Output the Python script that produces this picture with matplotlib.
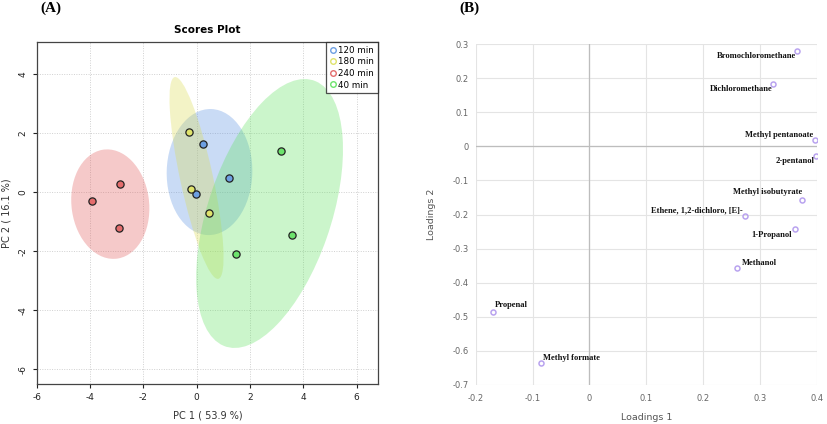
import numpy as np
import matplotlib
matplotlib.use("Agg")
import matplotlib.pyplot as plt
from matplotlib.patches import Ellipse
from matplotlib.lines import Line2D

plt.rcParams["axes.unicode_minus"] = False

# ---------------- data: panel A (scores) ----------------
groups = ["120 min", "180 min", "240 min", "40 min"]
pc1_120 = [0.25, 1.22, -0.03]
pc2_120 = [1.63, 0.48, -0.08]
pc1_180 = [-0.28, -0.21, 0.47]
pc2_180 = [2.02, 0.11, -0.70]
pc1_240 = [-3.93, -2.86, -2.93]
pc2_240 = [-0.29, 0.28, -1.22]
pc1_40 = [3.15, 3.59, 1.46]
pc2_40 = [1.39, -1.47, -2.10]
point_colors = ["#6d9fe2", "#dfe36c", "#e36c6c", "#6ce36c"]
fill_colors = ["#5c92e2", "#dddd54", "#e25c5c", "#62e262"]
xticks_a = [-6, -4, -2, 0, 2, 4, 6]
yticks_a = [-6, -4, -2, 0, 2, 4]

# ---------------- data: panel B (loadings) ----------------
compounds = ["Bromochloromethane", "Dichloromethane", "Methyl pentanoate", "2-pentanol",
             "Methyl isobutyrate", "Ethene, 1,2-dichloro, [E]-", "1-Propanol", "Methanol",
             "Propenal", "Methyl formate"]
load1 = [0.366, 0.323, 0.397, 0.399, 0.374, 0.273, 0.362, 0.260, -0.170, -0.0845]
load2 = [0.279, 0.184, 0.019, -0.027, -0.157, -0.205, -0.242, -0.357, -0.485, -0.635]
xticks_b = [-0.2, -0.1, 0, 0.1, 0.2, 0.3, 0.4]
yticks_b = [-0.7, -0.6, -0.5, -0.4, -0.3, -0.2, -0.1, 0, 0.1, 0.2, 0.3]
xticklabels_b = ["-0.2", "-0.1", "0", "0.1", "0.2", "0.3", "0.4"]
yticklabels_b = ["-0.7", "-0.6", "-0.5", "-0.4", "-0.3", "-0.2", "-0.1", "0", "0.1", "0.2", "0.3"]

W, H = 827, 424
fig = plt.figure(figsize=(W / 100, H / 100), dpi=100)

def fx(px):
    return px / W

def fy(py):
    return 1 - py / H

# ================= Panel A =================
axA = fig.add_axes([fx(36.7), fy(383.7), fx(378.3 - 36.7), (383.7 - 41.7) / H])
axA.set_xlim(-6.0, 6.81)
axA.set_ylim(-6.49, 5.09)

xs = [pc1_120, pc1_180, pc1_240, pc1_40]
ys = [pc2_120, pc2_180, pc2_240, pc2_40]
scale = np.sqrt(-2 * np.log(1 - 0.95))  # chi-square(2) 95% radius
for x, y, fc in zip(xs, ys, fill_colors):
    pts = np.vstack([x, y])
    cov = np.cov(pts)
    vals, vecs = np.linalg.eigh(cov)
    order = vals.argsort()[::-1]
    vals, vecs = vals[order], vecs[:, order]
    angle = np.degrees(np.arctan2(vecs[1, 0], vecs[0, 0]))
    e = Ellipse((np.mean(x), np.mean(y)), 2 * scale * np.sqrt(vals[0]),
                2 * scale * np.sqrt(vals[1]), angle=angle,
                facecolor=fc, alpha=0.33, edgecolor="none", zorder=2)
    axA.add_patch(e)
for x, y, pc in zip(xs, ys, point_colors):
    axA.plot(x, y, "o", ms=5.2, mfc=pc, mec="#222222", mew=0.9, ls="none", zorder=4)

axA.set_xticks(xticks_a)
axA.set_yticks(yticks_a)
axA.grid(True, color="#d0d0d0", ls=(0, (1, 1.5)), lw=0.7)
axA.set_axisbelow(True)
for s in axA.spines.values():
    s.set_color("#444444")
    s.set_linewidth(0.9)
axA.tick_params(labelsize=6.5, length=3, width=0.8, colors="#222222")
plt.setp(axA.get_yticklabels(), rotation=90, va="center")
axA.set_xlabel("PC 1 ( 53.9 %)", fontsize=7, color="#333333", labelpad=6)
axA.set_ylabel("PC 2 ( 16.1 %)", fontsize=7, color="#333333", labelpad=5)
axA.set_title("Scores Plot", fontsize=7.5, fontweight="bold", pad=6.5)

handles = [Line2D([], [], marker="o", ls="none", mfc="none", mec=c, mew=1.0, ms=4.0)
           for c in point_colors]
leg = axA.legend(handles, groups, loc="upper right", bbox_to_anchor=(1, 1),
                 borderaxespad=0, fontsize=6.3, frameon=True, fancybox=False,
                 edgecolor="#222222", handlelength=0.6, handletextpad=0.35,
                 labelspacing=0.3, borderpad=0.45)
leg.get_frame().set_linewidth(0.9)

# ================= Panel B =================
axB = fig.add_axes([fx(475.7), fy(384.7), fx(816.7 - 475.7), (384.7 - 44.3) / H])
axB.set_xlim(-0.2, 0.4)
axB.set_ylim(-0.7, 0.3)
axB.set_xticks(xticks_b)
axB.set_xticklabels(xticklabels_b)
axB.set_yticks(yticks_b)
axB.set_yticklabels(yticklabels_b)
axB.grid(True, color="#e4e4e4", lw=0.8)
axB.set_axisbelow(True)
for s in axB.spines.values():
    s.set_visible(False)
axB.axhline(0, color="#bdbdbd", lw=0.9, zorder=1)
axB.axvline(0, color="#bdbdbd", lw=0.9, zorder=1)
axB.tick_params(axis="x", labelsize=6, length=0, pad=7, colors="#666666")
axB.tick_params(axis="y", labelsize=6, length=0, pad=5, colors="#666666")
axB.set_xlabel("Loadings 1", fontsize=6.8, color="#555555", labelpad=7)
axB.set_ylabel("Loadings 2", fontsize=6.8, color="#555555", labelpad=12)
axB.plot(load1, load2, "o", ms=3.6, mfc="none", mec="#b9a3ef", mew=1.1, ls="none", zorder=3)

# label offsets (points) and alignment
offsets = [(-1, -3.5, "right"), (0, -3.5, "right"), (-1.5, 3.6, "right"), (-1.5, -3.6, "right"),
           (0.5, 5.5, "right"), (-1.5, 4.3, "right"), (-2, -4.3, "right"), (3.5, 3.6, "left"),
           (1.5, 5, "left"), (1, 3.6, "left")]
for name, x, y, (dx, dy, ha) in zip(compounds, load1, load2, offsets):
    axB.annotate(name, (x, y), xytext=(dx, dy), textcoords="offset points",
                 ha=ha, va="center", fontsize=6.1, fontweight="bold",
                 family="Liberation Serif", color="#111111", zorder=4)

# panel labels
fig.text(fx(40), fy(8), "(A)", fontsize=11, fontweight="bold", family="Liberation Serif",
         ha="left", va="center")
fig.text(fx(459), fy(8), "(B)", fontsize=11, fontweight="bold", family="Liberation Serif",
         ha="left", va="center")

fig.savefig("out.png", dpi=100)
